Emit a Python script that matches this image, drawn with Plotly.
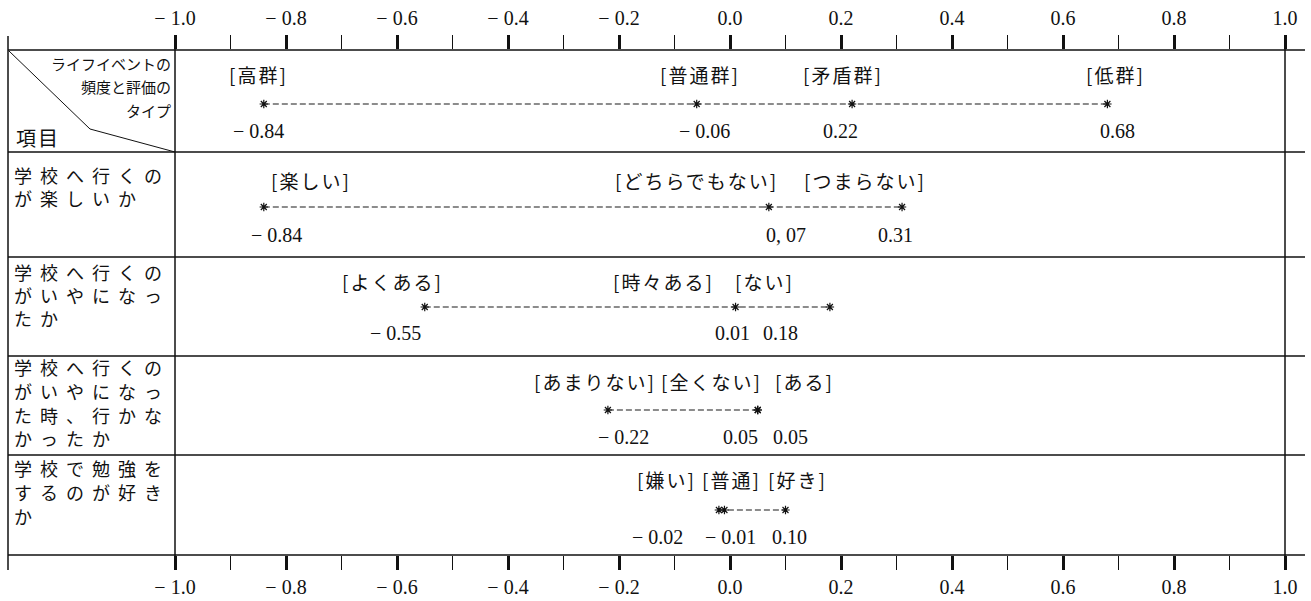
import plotly.graph_objects as go

# ---------------- data ----------------
tick_values = [-1.0, -0.8, -0.6, -0.4, -0.2, 0.0, 0.2, 0.4, 0.6, 0.8, 1.0]
tick_labels = ["− 1.0", "− 0.8", "− 0.6", "− 0.4", "− 0.2", "0.0", "0.2", "0.4", "0.6", "0.8", "1.0"]

header_top_lines = ["ライフイベントの", "頻度と評価の", "タイプ"]
header_item_label = "項目"

header_categories = ["高群", "普通群", "矛盾群", "低群"]
header_values = [-0.84, -0.06, 0.22, 0.68]
header_value_text = ["− 0.84", "− 0.06", "0.22", "0.68"]

item1_lines = ["学校へ行くの", "が楽しいか"]
item1_categories = ["楽しい", "どちらでもない", "つまらない"]
item1_values = [-0.84, 0.07, 0.31]
item1_value_text = ["− 0.84", "0, 07", "0.31"]

item2_lines = ["学校へ行くの", "がいやになっ", "たか"]
item2_categories = ["よくある", "時々ある", "ない"]
item2_values = [-0.55, 0.01, 0.18]
item2_value_text = ["− 0.55", "0.01", "0.18"]

item3_lines = ["学校へ行くの", "がいやになっ", "た時、行かな", "かったか"]
item3_categories = ["あまりない", "全くない", "ある"]
item3_values = [-0.22, 0.05, 0.05]
item3_value_text = ["− 0.22", "0.05", "0.05"]

item4_lines = ["学校で勉強を", "するのが好き", "か"]
item4_categories = ["嫌い", "普通", "好き"]
item4_values = [-0.02, -0.01, 0.10]
item4_value_text = ["− 0.02", "− 0.01", "0.10"]

# ---------------- layout / style ----------------
W, H = 1311, 601
X0, X1 = 175, 1285          # pixel span of the -1..1 scale
Y_TOP, Y_BOT = 50, 555      # pixel rows of the two axes
TABLE_L, TABLE_R = 8, 1305
row_lines = [50, 152, 257, 356, 455, 555]

JP = "Noto Sans CJK JP"
SERIF = "Liberation Serif"
INK = "#111111"

rows = [
    # categories, values, value text, (label y, star y, value y), label shifts, value shifts
    (header_categories, header_values, header_value_text, (74, 104, 131), [-5, 3, -9, 8], [-5, 8, -12, 10]),
    (item1_categories, item1_values, item1_value_text, (180, 207, 235), [47, -72, -37], [13, 17, -7]),
    (item2_categories, item2_values, item2_value_text, (281, 307, 333), [-32, -72, -65], [-29, -3, -49]),
    (item3_categories, item3_values, item3_value_text, (381, 410, 437), [-13, -46, 47], [16, -17, 33]),
    (item4_categories, item4_values, item4_value_text, (479, 510, 537), [-52, 7, 12], [-61, 6, 4]),
]
item_label_blocks = [
    (item1_lines, [175, 198]),
    (item2_lines, [272, 295, 318]),
    (item3_lines, [367, 391, 415, 438]),
    (item4_lines, [468, 492, 516]),
]

def px(x):
    return x / W

def py(y):
    return 1 - y / H

def spaced(t, ls):
    return f'<span style="letter-spacing:{ls}px">{t}</span>'

fig = go.Figure()

annotations = []
for cats, vals, vtext, (ly, sy, vy), lshift, vshift in rows:
    fig.add_trace(go.Scatter(
        x=vals, y=[sy] * len(vals), mode="lines+markers",
        line=dict(color="#1a1a1a", width=1.2, dash="6px,3px"),
        marker=dict(symbol="asterisk-open", size=7, color=INK, line=dict(color=INK, width=1.2)),
        cliponaxis=False, hoverinfo="skip", showlegend=False,
    ))
    for c, v, s in zip(cats, vals, lshift):
        annotations.append(dict(x=v, y=ly, xref="x", yref="y", text=spaced(f"[{c}]", 2), showarrow=False,
                                xanchor="center", yanchor="middle", xshift=s,
                                font=dict(family=JP, size=19, color=INK)))
    for t, v, s in zip(vtext, vals, vshift):
        annotations.append(dict(x=v, y=vy, xref="x", yref="y", text=t, showarrow=False,
                                xanchor="center", yanchor="middle", xshift=s,
                                font=dict(family=SERIF, size=20, color=INK)))

# invisible trace to carry the top axis
fig.add_trace(go.Scatter(x=[-1, 1], y=[None, None], xaxis="x2", yaxis="y",
                         mode="markers", showlegend=False, hoverinfo="skip"))

# header cell texts
for t, y in zip(header_top_lines, [63, 87, 110]):
    annotations.append(dict(x=px(173), y=py(y), xref="paper", yref="paper", text=t, showarrow=False,
                            xanchor="right", yanchor="middle",
                            font=dict(family=JP, size=15, color=INK)))
annotations.append(dict(x=px(14), y=py(137), xref="paper", yref="paper", text=spaced(header_item_label, 2),
                        showarrow=False, xanchor="left", yanchor="middle",
                        font=dict(family=JP, size=20, color=INK)))

# item (row) labels
for lines, ys in item_label_blocks:
    for t, y in zip(lines, ys):
        annotations.append(dict(x=px(12), y=py(y), xref="paper", yref="paper", text=spaced(t, 8),
                                showarrow=False, xanchor="left", yanchor="middle",
                                font=dict(family=JP, size=18, color=INK)))

shapes = []
for y in row_lines:
    shapes.append(dict(type="line", xref="paper", yref="paper", x0=px(TABLE_L), x1=px(TABLE_R),
                       y0=py(y), y1=py(y), line=dict(color=INK, width=1.5)))
for x, ya, yb in [(TABLE_L, 36, 570), (X0, 36, 569), (X1, 36, 569)]:
    shapes.append(dict(type="line", xref="paper", yref="paper", x0=px(x), x1=px(x),
                       y0=py(ya), y1=py(yb), line=dict(color=INK, width=1.5)))
# header diagonal
shapes.append(dict(type="path", xref="paper", yref="paper",
                   path=f"M {px(9)},{py(51)} L {px(90)},{py(129)} L {px(X0)},{py(152)}",
                   line=dict(color=INK, width=1)))

axis_common = dict(
    domain=[X0 / W, X1 / W], range=[-1, 1], automargin=False,
    tickmode="array", tickvals=tick_values, ticktext=tick_labels,
    ticks="outside", ticklen=14, tickwidth=3, tickcolor=INK,
    minor=dict(dtick=0.1, tick0=0, ticks="outside", ticklen=14, tickwidth=1, tickcolor=INK, showgrid=False),
    showline=False, showgrid=False, zeroline=False, fixedrange=True,
    tickfont=dict(family=SERIF, size=20, color=INK),
)

fig.update_layout(
    width=W, height=H, autosize=False,
    margin=dict(l=0, r=0, t=0, b=0, pad=0, autoexpand=False),
    paper_bgcolor="white", plot_bgcolor="white",
    xaxis=dict(**axis_common, anchor="y", side="bottom"),
    xaxis2=dict(**axis_common, anchor="y", side="top", overlaying="x", ticklabelstandoff=2),
    yaxis=dict(domain=[1 - Y_BOT / H, 1 - Y_TOP / H], range=[Y_BOT, Y_TOP], visible=False,
               fixedrange=True, automargin=False),
    annotations=annotations,
    shapes=shapes,
    showlegend=False,
)

fig.write_html(
    "out.html",
    config={"displayModeBar": False},
    post_script="document.body.style.margin='0';document.body.style.overflow='hidden';",
)
